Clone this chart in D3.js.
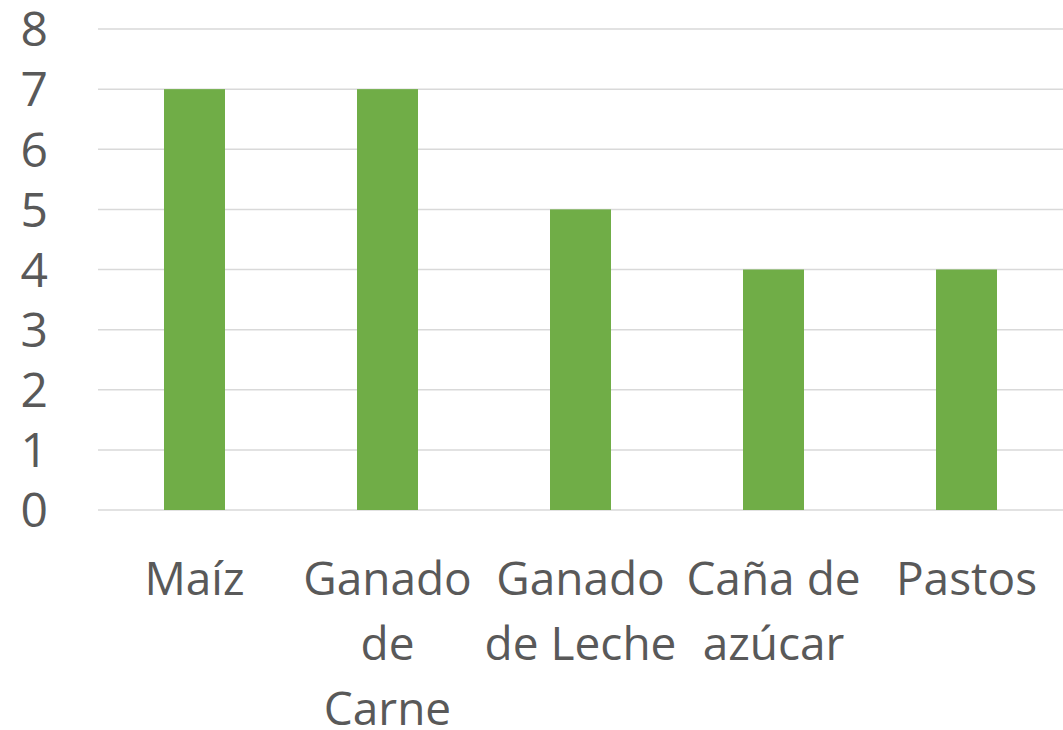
<html>
<head>
    <script src="https://d3js.org/d3.v7.min.js"></script>
    <style>
        body { margin: 0; background: #fff; }
        text { font-family: "Open Sans", sans-serif; fill: #595959; }
    </style>
</head>
<body>
    <div id="chart"></div>
    <script type="text/javascript">
    // chart data
    var categories = ["Maíz", "Ganado de Carne", "Ganado de Leche", "Caña de azúcar", "Pastos"];
    var labelLines = [["Maíz"], ["Ganado", "de", "Carne"], ["Ganado", "de Leche"], ["Caña de", "azúcar"], ["Pastos"]];
    var values = [7, 7, 5, 4, 4];
    var yTicks = [0, 1, 2, 3, 4, 5, 6, 7, 8];

    var width = 1063, height = 730;
    var plotLeft = 98, plotRight = 1063, plotTop = 29, plotBottom = 510;

    var svg = d3.select("#chart").append("svg")
        .attr("width", width)
        .attr("height", height);

    var x = d3.scaleBand()
        .domain(categories)
        .range([plotLeft, plotRight])
        .paddingInner(0.684)
        .paddingOuter(0.342);

    var y = d3.scaleLinear()
        .domain([0, 8])
        .range([plotBottom, plotTop]);

    // gridlines
    svg.append("g")
        .selectAll("line")
        .data(yTicks)
        .enter()
        .append("line")
        .attr("x1", plotLeft)
        .attr("x2", plotRight)
        .attr("y1", function(d) { return y(d); })
        .attr("y2", function(d) { return y(d); })
        .attr("stroke", "#d9d9d9")
        .attr("stroke-width", 1.5);

    // y tick labels
    svg.append("g")
        .selectAll("text")
        .data(yTicks)
        .enter()
        .append("text")
        .attr("x", 48)
        .attr("y", function(d) { return y(d); })
        .attr("dy", "0.36em")
        .attr("text-anchor", "end")
        .style("font-size", "48px")
        .text(function(d) { return d; });

    // bars
    svg.append("g")
        .selectAll("rect")
        .data(values)
        .enter()
        .append("rect")
        .attr("x", function(d, i) { return x(categories[i]); })
        .attr("width", x.bandwidth())
        .attr("y", function(d) { return y(d); })
        .attr("height", function(d) { return y(0) - y(d); })
        .attr("fill", "#70ad47");

    // category labels
    var labels = svg.append("g")
        .selectAll("text")
        .data(categories)
        .enter()
        .append("text")
        .attr("text-anchor", "middle")
        .style("font-size", "46px")
        .attr("x", function(d) { return x(d) + x.bandwidth() / 2; })
        .attr("y", 595);

    labels.selectAll("tspan")
        .data(function(d, i) { return labelLines[i]; })
        .enter()
        .append("tspan")
        .attr("x", function() { return d3.select(this.parentNode).attr("x"); })
        .attr("dy", function(d, i) { return i == 0 ? 0 : 65; })
        .text(function(d) { return d; });
    </script>
</body>
</html>
